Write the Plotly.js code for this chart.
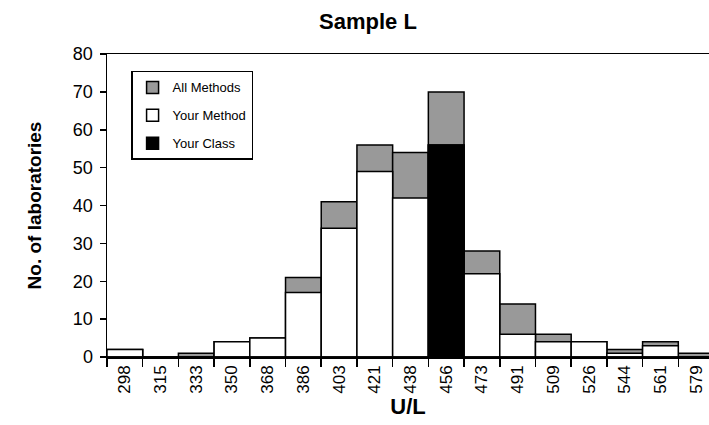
<!DOCTYPE html>
<html>
<head>
<meta charset="utf-8">
<script src="https://cdn.plot.ly/plotly-3.0.1.min.js"></script>
<style>html,body{margin:0;padding:0;background:#fff;}#chart{width:709px;height:425px;}</style>
</head>
<body>
<div id="chart"></div>
<script>
const categories = ["298","315","333","350","368","386","403","421","438","456","473","491","509","526","544","561","579"];
const allMethods = [2, 0, 1, 4, 5, 21, 41, 56, 54, 70, 28, 14, 6, 4, 2, 4, 1];
const yourMethod = [2, 0, 0, 4, 5, 17, 34, 49, 42, 56, 22, 6, 4, 4, 1, 3, 0];
const yourClass  = [0, 0, 0, 0, 0, 0, 0, 0, 0, 56, 0, 0, 0, 0, 0, 0, 0];

const lineStyle = {color: '#000000', width: 1.5};
const traces = [
  {type: 'bar', name: 'All Methods', x: categories, y: allMethods, legendgroup: 'a',
   marker: {color: '#999999', line: lineStyle}},
  {type: 'bar', name: 'Your Method', x: categories, y: yourMethod, legendgroup: 'b',
   marker: {color: '#ffffff', line: lineStyle}},
  {type: 'bar', name: 'Your Class', x: categories, y: yourClass, legendgroup: 'c',
   marker: {color: '#000000', line: lineStyle}}
];

const layout = {
  width: 709, height: 425,
  margin: {l: 107, r: 0, t: 54, b: 68},
  paper_bgcolor: '#ffffff', plot_bgcolor: '#ffffff',
  font: {family: 'Liberation Sans, Arial, sans-serif', color: '#000000'},
  barmode: 'overlay', bargap: 0,
  title: {text: '<b>Sample L</b>', font: {size: 22, color: '#000'}, x: 0.519, xanchor: 'center', y: 0.95, yanchor: 'middle', xref: 'container', yref: 'container'},
  xaxis: {
    type: 'category', range: [-0.5, 16.36],
    tickangle: -90, tickfont: {size: 17},
    ticks: 'outside', ticklen: 8, tickwidth: 1.5, tickcolor: '#000', tickson: 'boundaries',
    showline: true, linecolor: '#000', linewidth: 1.5, mirror: true,
    showgrid: false, zeroline: false, automargin: false,
    title: {text: '<b>U/L</b>', font: {size: 22}, standoff: 0}
  },
  yaxis: {
    range: [0, 80], dtick: 10, tickfont: {size: 18},
    ticks: 'outside', ticklen: 6, tickwidth: 1.5, tickcolor: '#000', ticklabelstandoff: 3,
    showline: true, linecolor: '#000', linewidth: 1.5,
    showgrid: false, zeroline: false, automargin: false,
    title: {text: '<b>No. of laboratories</b>', font: {size: 19}, standoff: 26}
  },
  showlegend: true,
  legend: {
    x: 0.04, y: 0.944, xanchor: 'left', yanchor: 'top',
    bgcolor: '#ffffff', bordercolor: '#000', borderwidth: 1.5,
    font: {size: 13}, traceorder: 'grouped', tracegroupgap: 8, itemwidth: 30
  }
};

Plotly.newPlot('chart', traces, layout, {displayModeBar: false, staticPlot: true});
</script>
</body>
</html>
